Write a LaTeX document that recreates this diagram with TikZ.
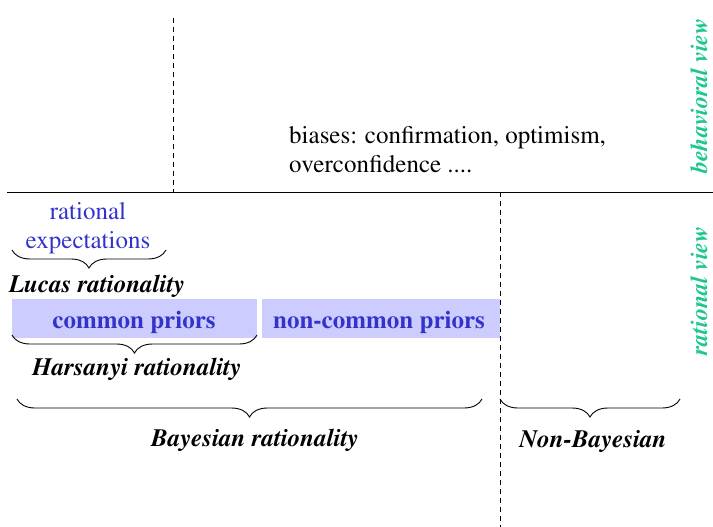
\documentclass[tikz,border=0pt]{standalone}
\usepackage[T1]{fontenc}
\usepackage{times}
\usetikzlibrary{decorations.pathreplacing}
\definecolor{priorblue}{RGB}{51,51,204}
\definecolor{priorfill}{RGB}{204,204,255}
\definecolor{viewgreen}{RGB}{30,200,140}
\begin{document}
\begin{tikzpicture}[x=1pt,y=-1pt,
  plain/.style={font=\fontsize{25}{29}\selectfont, inner sep=0pt, anchor=base},
  heading/.style={font=\fontsize{25}{30}\selectfont\bfseries\itshape, inner sep=0pt, anchor=base},
  viewlabel/.style={font=\fontsize{24}{28}\selectfont\bfseries\itshape, text=viewgreen,
    inner sep=0pt, anchor=base, rotate=90},
  priorbox/.style={fill=priorfill, draw=none, inner sep=0pt, minimum height=39pt},
  priortext/.style={font=\fontsize{25}{30}\selectfont\bfseries, text=priorblue, inner sep=0pt, anchor=base},
  divider/.style={line width=0.8pt, dash pattern=on 5pt off 4pt},
  curly/.style={decorate, decoration={brace, mirror, amplitude=18pt}, line width=0.9pt}
]
\useasboundingbox (0,0) rectangle (713,527);

% separators between the two views and the two kinds of rationality
\coordinate (hl) at (7,192);
\coordinate (hr) at (713,192);
\draw[line width=1pt] (hl) -- (hr);
\coordinate (d1t) at (173,18);
\coordinate (d1b) at (173,192);
\draw[divider] (d1t) -- (d1b);
\coordinate (d2t) at (500,192);
\coordinate (d2b) at (500,527);
\draw[divider] (d2t) -- (d2b);

% view labels on the right edge
\node[viewlabel] (behav) at (707,96) {behavioral view};
\node[viewlabel] (ratv) at (707,291) {rational view};

% behavioral biases
\node[plain, anchor=base west] (bias1) at (289,143) {biases: confirmation, optimism,};
\node[plain, anchor=base west] (bias2) at (289,172) {overconfidence ....};

% rational expectations / Lucas
\node[plain, text=priorblue] (re1) at (88,219) {rational};
\node[plain, text=priorblue] (re2) at (88,248) {expectations};
\coordinate (b1l) at (12,250);
\coordinate (b1r) at (166,250);
\draw[curly] (b1l) -- (b1r);
\node[heading] (lucas) at (97,292) {Lucas rationality};

% priors
\node[priorbox, minimum width=245pt] (cpbox) at (134.5,318) {};
\node[priorbox, minimum width=238pt] (ncpbox) at (381,318.5) {};
\node[priortext] (cp) at (134,328) {common priors};
\node[priortext] (ncp) at (379,328) {non-common priors};

% Harsanyi
\coordinate (b2l) at (12,335);
\coordinate (b2r) at (257,335);
\draw[curly] (b2l) -- (b2r);
\node[heading] (harsanyi) at (137,375) {Harsanyi rationality};

% Bayesian vs non-Bayesian
\coordinate (b3l) at (17,399);
\coordinate (b3r) at (482,399);
\draw[curly] (b3l) -- (b3r);
\node[heading] (bayes) at (255,446) {Bayesian rationality};
\coordinate (b4l) at (500,399);
\coordinate (b4r) at (680,399);
\draw[curly] (b4l) -- (b4r);
\node[heading] (nonbayes) at (593,447) {Non-Bayesian};
\end{tikzpicture}
\end{document}
